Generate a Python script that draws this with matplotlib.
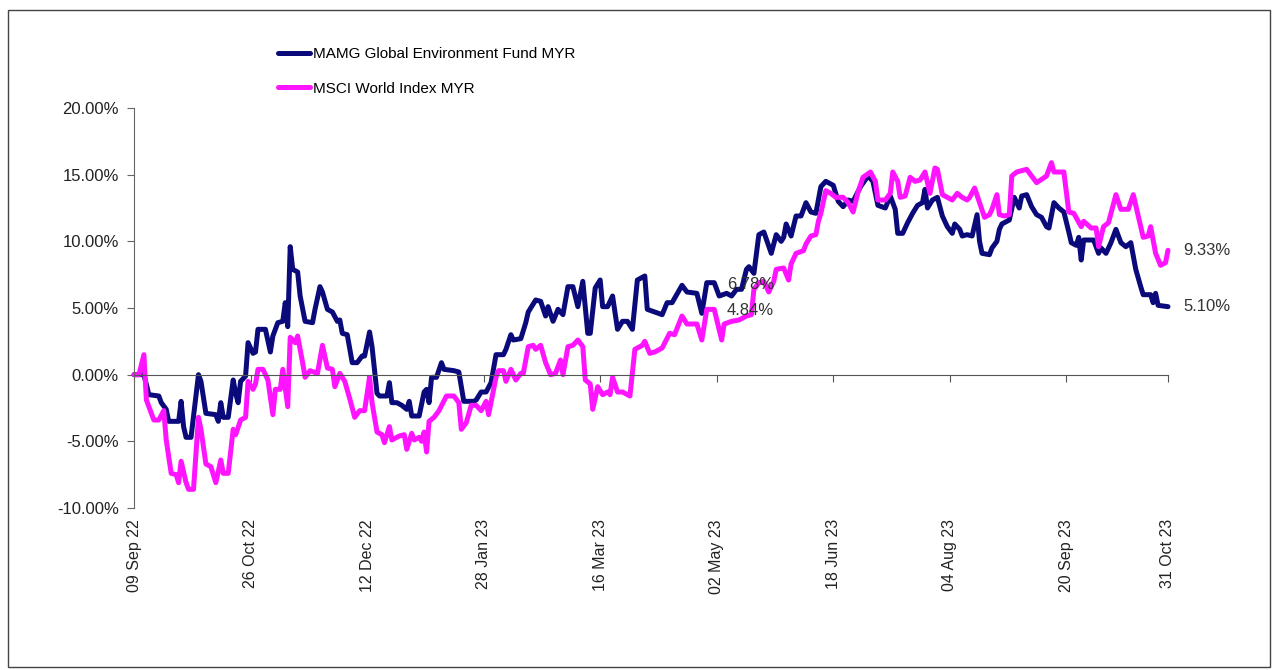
import numpy as np
import pandas as pd
import matplotlib
matplotlib.use('Agg')
import matplotlib.pyplot as plt
import matplotlib.dates as mdates
from matplotlib.ticker import MultipleLocator, FuncFormatter
from matplotlib.patches import Rectangle

plt.rcParams['font.family'] = ['Liberation Sans', 'DejaVu Sans']

# cumulative return (%), x = days since 09 Sep 22
start = pd.Timestamp('2022-09-09')
fund_name = 'MAMG Global Environment Fund MYR'
index_name = 'MSCI World Index MYR'

fund_days = [0, 4, 6, 10, 11, 13, 14, 18, 19, 20, 21, 23, 26, 27, 29, 33, 34, 35, 36, 38,
             40, 41, 42, 43, 45, 46, 48, 49, 50, 53, 55, 56, 58, 60, 61, 62, 63, 64, 66, 67,
             69, 72, 73, 75, 76, 78, 80, 82, 83, 84, 86, 88, 90, 92, 93, 95, 96, 98, 99, 102,
             103, 104, 106, 108, 110, 111, 112, 115, 117, 118, 119, 120, 122, 124, 125, 129, 131, 133, 137, 138,
             140, 142, 144, 146, 149, 150, 152, 153, 156, 158, 159, 162, 164, 166, 167, 169, 171, 173, 175, 177,
             179, 181, 183, 184, 186, 188, 189, 191, 193, 195, 197, 199, 201, 203, 206, 207, 213, 215, 217, 221,
             223, 227, 229, 231, 234, 236, 239, 241, 243, 245, 247, 248, 250, 252, 254, 257, 259, 261, 262, 263,
             265, 267, 269, 271, 273, 275, 277, 279, 282, 284, 286, 288, 290, 293, 296, 298, 300, 303, 305, 307,
             308, 310, 312, 314, 316, 318, 319, 320, 322, 324, 326, 328, 330, 331, 333, 334, 336, 338, 340, 341,
             342, 345, 346, 348, 349, 350, 353, 355, 357, 358, 360, 362, 364, 366, 368, 369, 371, 373, 375, 377,
             378, 380, 381, 382, 383, 387, 389, 390, 392, 394, 396, 398, 400, 402, 404, 406, 407, 410, 411, 412,
             413, 417]
fund_pct = [0.0, 0.0, -1.5, -1.6, -2.1, -2.6, -3.5, -3.5, -2.0, -3.9,
            -4.7, -4.7, 0.0, -0.5, -2.9, -3.0, -3.5, -2.1, -3.2, -3.2,
            -0.4, -1.4, -2.1, -0.5, -0.1, 2.4, 1.6, 1.7, 3.4, 3.4,
            1.7, 2.9, 3.9, 4.0, 5.4, 3.6, 9.6, 7.9, 7.7, 5.9,
            4.0, 3.9, 4.9, 6.6, 6.2, 4.9, 4.7, 4.0, 4.1, 3.1,
            3.0, 0.9, 0.9, 1.4, 1.4, 3.2, 2.1, -1.4, -1.6, -1.6,
            -0.6, -2.1, -2.1, -2.3, -2.6, -2.0, -3.1, -3.1, -1.3, -1.1,
            -2.1, -0.2, -0.2, 0.9, 0.4, 0.3, 0.2, -2.0, -2.0, -1.9,
            -1.3, -1.3, -0.6, 1.5, 1.5, 1.9, 3.0, 2.6, 2.7, 3.9,
            4.7, 5.6, 5.5, 4.4, 5.1, 4.0, 4.9, 4.5, 6.6, 6.6,
            5.1, 7.0, 3.1, 3.1, 6.5, 7.1, 5.1, 5.1, 5.9, 3.4,
            4.0, 4.0, 3.4, 7.1, 7.4, 4.9, 4.5, 5.4, 5.4, 6.7,
            6.2, 6.1, 4.6, 6.9, 6.9, 5.9, 6.1, 5.9, 6.4, 6.4,
            7.9, 8.1, 7.6, 10.5, 10.7, 9.1, 10.5, 10.0, 10.3, 11.3,
            10.4, 11.9, 11.9, 12.9, 12.2, 12.1, 14.1, 14.5, 14.2, 13.0,
            12.6, 13.1, 13.0, 14.1, 14.9, 14.5, 12.7, 12.5, 13.4, 12.4,
            10.6, 10.6, 11.4, 12.1, 12.7, 12.9, 13.9, 12.5, 13.1, 13.3,
            11.9, 11.1, 10.6, 11.3, 10.9, 10.4, 10.5, 10.4, 12.0, 10.0,
            9.1, 9.0, 9.5, 10.0, 10.9, 11.3, 11.6, 13.3, 12.5, 13.4,
            13.5, 12.6, 12.0, 11.8, 11.1, 11.0, 12.9, 12.5, 12.2, 10.7,
            9.9, 9.7, 10.3, 8.6, 10.1, 10.1, 9.1, 9.5, 9.1, 9.9,
            10.9, 9.9, 9.6, 9.9, 7.9, 6.6, 6.0, 6.0, 5.4, 6.1,
            5.2, 5.10]

index_days = [0, 2, 4, 5, 6, 8, 10, 12, 13, 15, 17, 18, 19, 21, 22, 24, 26, 27, 29, 31,
              33, 35, 36, 38, 40, 41, 43, 45, 46, 48, 49, 50, 52, 54, 56, 57, 59, 60, 62, 63,
              65, 66, 68, 69, 71, 74, 76, 78, 80, 81, 83, 85, 87, 89, 91, 93, 95, 96, 98, 100,
              101, 103, 104, 107, 109, 110, 112, 113, 115, 116, 117, 118, 119, 121, 123, 126, 129, 131, 132, 134,
              136, 138, 140, 142, 143, 146, 147, 149, 150, 152, 154, 156, 157, 159, 161, 162, 164, 166, 168, 170,
              172, 173, 175, 177, 179, 181, 182, 184, 185, 187, 189, 191, 192, 193, 195, 197, 200, 202, 205, 206,
              208, 210, 213, 216, 218, 221, 223, 227, 229, 231, 234, 237, 238, 241, 244, 247, 249, 250, 252, 254,
              256, 258, 259, 262, 264, 265, 267, 270, 271, 273, 275, 276, 277, 279, 281, 283, 286, 288, 290, 292,
              294, 297, 299, 300, 303, 305, 306, 308, 309, 311, 313, 315, 317, 319, 321, 323, 324, 326, 328, 330,
              332, 334, 336, 337, 339, 341, 343, 345, 346, 348, 349, 351, 353, 354, 356, 360, 364, 368, 370, 371,
              375, 377, 379, 382, 383, 386, 388, 389, 391, 393, 396, 398, 401, 403, 405, 407, 409, 410, 412, 414,
              416, 417]
index_pct = [0.0, 0.0, 1.5, -1.9, -2.4, -3.4, -3.4, -2.7, -4.9, -7.4,
             -7.5, -8.1, -6.5, -8.1, -8.6, -8.6, -3.2, -4.1, -6.7, -6.9,
             -8.1, -6.4, -7.4, -7.4, -4.1, -4.5, -3.4, -3.2, -0.5, -1.1,
             -0.7, 0.4, 0.4, -0.4, -3.0, -1.1, -1.1, 0.4, -2.4, 2.8,
             2.4, 2.9, 0.9, -0.2, 0.3, 0.1, 2.2, 0.5, 0.4, -0.9,
             0.1, -0.5, -1.8, -3.2, -2.7, -2.7, -0.2, -2.1, -4.3, -4.5,
             -5.1, -3.9, -4.9, -4.6, -4.5, -5.6, -4.4, -4.9, -4.7, -5.0,
             -4.3, -5.8, -3.5, -3.2, -2.7, -1.6, -1.6, -2.1, -4.1, -3.6,
             -2.3, -2.3, -2.7, -2.0, -3.0, -0.2, 0.3, 0.3, -0.5, 0.4,
             -0.4, 0.1, 0.1, 2.1, 2.2, 1.9, 2.2, 0.9, 0.0, 0.1,
             1.1, 0.0, 2.1, 2.2, 2.6, 2.1, -0.4, -0.7, -2.6, -0.9,
             -1.5, -1.3, -1.5, -0.2, -1.3, -1.3, -1.6, 1.9, 2.2, 2.5,
             1.6, 1.7, 2.0, 3.1, 3.0, 4.4, 3.8, 3.8, 2.6, 4.9,
             4.9, 2.6, 3.8, 4.0, 4.1, 4.4, 4.5, 6.4, 6.9, 7.0,
             6.2, 7.0, 7.9, 8.0, 7.1, 8.3, 9.1, 9.3, 9.8, 10.4,
             10.5, 11.5, 12.1, 13.8, 13.6, 13.3, 13.3, 12.9, 12.2, 13.7,
             14.8, 15.2, 14.5, 13.1, 13.1, 13.6, 15.2, 14.5, 13.3, 13.4,
             14.8, 14.5, 14.6, 15.2, 13.6, 15.5, 15.4, 13.5, 13.3, 13.1,
             13.6, 13.3, 13.1, 13.3, 14.0, 12.9, 11.8, 12.0, 12.4, 13.5,
             12.0, 11.9, 12.0, 14.9, 15.2, 15.4, 14.4, 14.9, 15.9, 15.2,
             15.2, 12.2, 12.1, 11.1, 11.5, 11.0, 11.0, 9.6, 11.1, 11.4,
             13.5, 12.4, 12.4, 13.5, 11.9, 10.3, 10.4, 11.1, 9.1, 8.2,
             8.4, 9.33]

tick_labels = ['09 Sep 22', '26 Oct 22', '12 Dec 22', '28 Jan 23', '16 Mar 23',
               '02 May 23', '18 Jun 23', '04 Aug 23', '20 Sep 23', '31 Oct 23']

# data labels shown mid-chart on 02 May 23
mid_date = '2023-05-02'
mid_fund = 6.78
mid_index = 4.84

fund_dates = mdates.date2num(start + pd.to_timedelta(fund_days, unit='D'))
index_dates = mdates.date2num(start + pd.to_timedelta(index_days, unit='D'))
tick_dates = mdates.date2num(pd.to_datetime(tick_labels, format='%d %b %y'))

W, H = 1276, 670
fig = plt.figure(figsize=(W / 100, H / 100), dpi=100)
ax = fig.add_axes([134 / W, 1 - 508 / H, (1168 - 134) / W, 400 / H])

ax.plot(fund_dates, fund_pct, color='#0a0a7a', lw=3.6, solid_joinstyle='round',
        solid_capstyle='round', clip_on=False, label=fund_name)
ax.plot(index_dates, index_pct, color='#ff14ff', lw=3.6, solid_joinstyle='round',
        solid_capstyle='round', clip_on=False, label=index_name)

ax.set_xlim(tick_dates[0], tick_dates[-1])
ax.set_ylim(-10, 20)
ax.yaxis.set_major_locator(MultipleLocator(5))
ax.yaxis.set_major_formatter(FuncFormatter(lambda v, p: f'{v:.2f}%'))

for s in ['top', 'right']:
    ax.spines[s].set_visible(False)
ax.spines['left'].set_color('#666666')
ax.spines['bottom'].set_position(('data', 0))
ax.spines['bottom'].set_color('#555555')

ax.set_xticks(tick_dates)
ax.tick_params(axis='x', direction='out', length=5, color='#555555', labelbottom=False)
ax.tick_params(axis='y', direction='out', length=5, color='#666666', pad=6,
               labelsize=12, labelcolor='#222222')

sec = ax.secondary_xaxis('bottom')
sec.set_xticks(tick_dates, tick_labels, rotation=90)
sec.spines['bottom'].set_visible(False)
sec.tick_params(length=0, pad=8, labelsize=11.5, labelcolor='#222222')

ax.legend(loc='upper left', bbox_to_anchor=(278 / W, 1 - 47 / H), bbox_transform=fig.transFigure,
          frameon=False, handlelength=2.1, handletextpad=0.2, labelspacing=1.35,
          borderpad=0, borderaxespad=0, prop={'size': 11})

lbl = dict(textcoords='offset pixels', va='center', ha='left', fontsize=12, color='#333333',
           annotation_clip=False)
mid_x = mdates.date2num(pd.Timestamp(mid_date))
ax.annotate(f'{mid_fund:.2f}%', (mid_x, mid_fund), xytext=(10, 0), **lbl)
ax.annotate(f'{mid_index:.2f}%', (mid_x, mid_index), xytext=(10, 0), **lbl)
ax.annotate(f'{index_pct[-1]:.2f}%', (index_dates[-1], index_pct[-1]), xytext=(15, 0), **lbl)
ax.annotate(f'{fund_pct[-1]:.2f}%', (fund_dates[-1], fund_pct[-1]), xytext=(15, 0), **lbl)

fig.patches.append(Rectangle((8 / W, 0.004), (1270 - 8) / W, 0.981, transform=fig.transFigure,
                             fill=False, edgecolor='#444444', lw=1))

fig.savefig('out.png', dpi=100)
